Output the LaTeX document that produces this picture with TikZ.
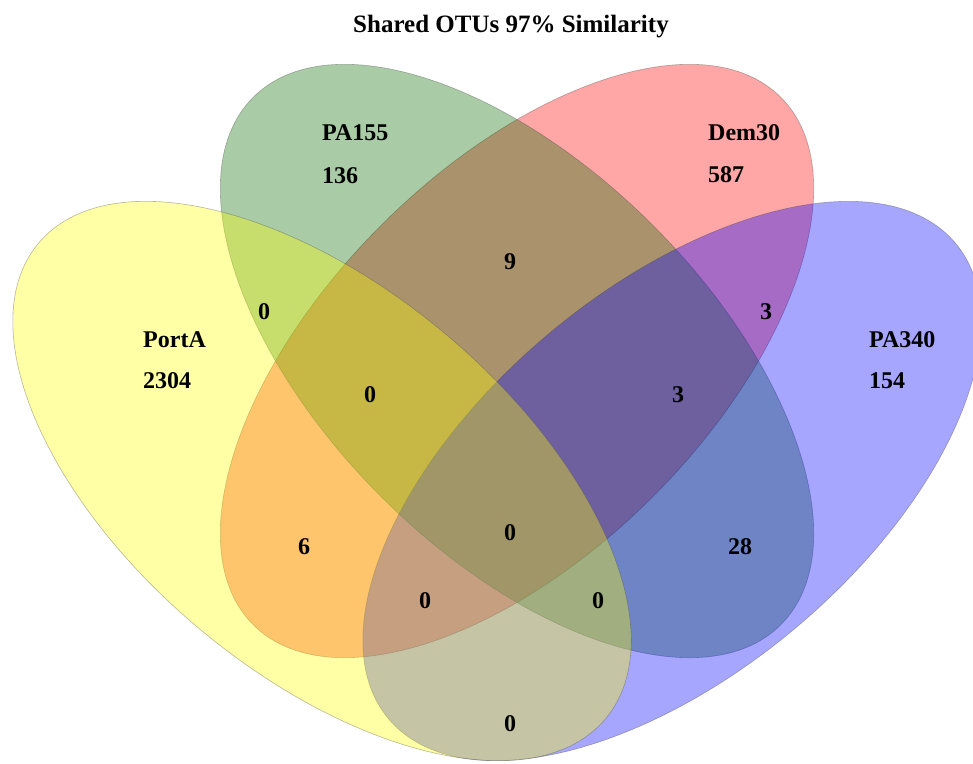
\documentclass[tikz,border=0pt]{standalone}
\usepackage{fontspec}
\setmainfont{Liberation Serif}
\usetikzlibrary{shapes.geometric}
\definecolor{cyellow}{RGB}{255,255,0}
\definecolor{cgreen}{RGB}{10,110,0}
\definecolor{cred}{RGB}{255,0,0}
\definecolor{cblue}{RGB}{0,0,255}
\begin{document}
\begin{tikzpicture}[x=1pt,y=-1pt,
  setell/.style={ellipse, inner sep=0pt, outer sep=0pt, fill=#1, fill opacity=0.35,
    draw=black!70, draw opacity=0.4, line width=0.6pt},
  lab/.style={inner sep=0pt, text opacity=1, font=\fontsize{24}{28}\selectfont\bfseries}]
\useasboundingbox (0,0) rectangle (973,763);
\fill[white] (0,0) rectangle (973,763);
% sets
\node[setell=cred, minimum width=746pt, minimum height=384pt, rotate=45] (dem) at (517,361) {};
\node[setell=cgreen, minimum width=746pt, minimum height=384pt, rotate=-45] (pa155) at (517,361) {};
\node[setell=cblue, minimum width=740pt, minimum height=384pt, rotate=40] (pa340) at (672,481) {};
\node[setell=cyellow, minimum width=740pt, minimum height=384pt, rotate=-40] (porta) at (322,481) {};
% title
\node[lab, font=\fontsize{25}{30}\selectfont\bfseries] (title) at (511,27) {Shared OTUs 97\% Similarity};
% set labels
\node[lab, anchor=west] (lPortA) at (143,340) {PortA};
\node[lab, anchor=west] (cPortA) at (143,381) {2304};
\node[lab, anchor=west] (lPA155) at (322,133) {PA155};
\node[lab, anchor=west] (cPA155) at (322,176) {136};
\node[lab, anchor=west] (lDem) at (708,133) {Dem30};
\node[lab, anchor=west] (cDem) at (708,175) {587};
\node[lab, anchor=west] (lPA340) at (869,340) {PA340};
\node[lab, anchor=west] (cPA340) at (869,381) {154};
% region counts
\node[lab] (rAG) at (264,312) {0};
\node[lab] (rGR) at (510,262) {9};
\node[lab] (rRB) at (766,312) {3};
\node[lab] (rAGR) at (370,395) {0};
\node[lab] (rGRB) at (678,395) {3};
\node[lab] (rAR) at (304,547) {6};
\node[lab] (rAll) at (510,533) {0};
\node[lab] (rGB) at (740,547) {28};
\node[lab] (rARB) at (425,601) {0};
\node[lab] (rAGB) at (598,601) {0};
\node[lab] (rAB) at (510,724) {0};
\end{tikzpicture}
\end{document}
